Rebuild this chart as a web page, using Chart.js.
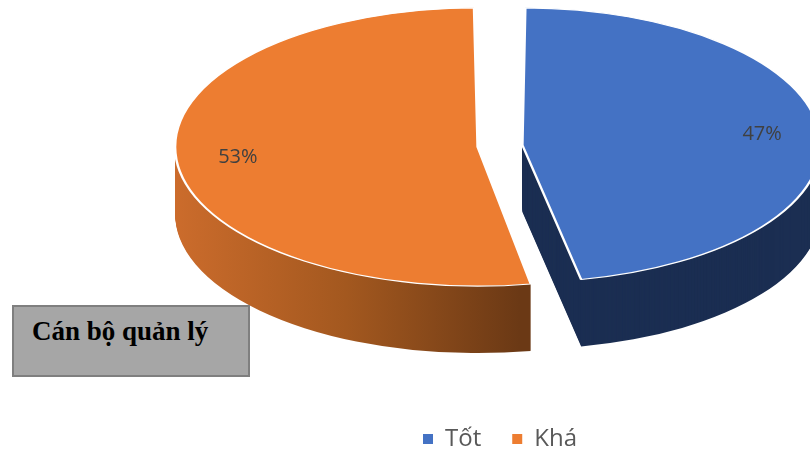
<!DOCTYPE html>
<html><head><meta charset="utf-8">
<script src="https://cdn.jsdelivr.net/npm/chart.js@4"></script>
<style>
html,body{margin:0;padding:0;background:#fff;}
#view{position:absolute;left:0;top:0;width:810px;height:453px;overflow:hidden;}
#holder{position:absolute;left:0;top:0;width:1000px;height:461px;}
#note{position:absolute;left:12px;top:305px;width:234px;height:68px;background:#a6a6a6;border:2px solid #7f7f7f;color:#000;}
#note span{position:absolute;left:18px;top:9px;font:bold 27px "Liberation Serif",serif;white-space:nowrap;}
</style></head><body>
<div id="view">
  <div id="holder"><canvas id="c"></canvas></div>
  <div id="note"><span>Cán bộ quản lý</span></div>
</div>
<script>
// ---- data ----
const categories = ['Tốt', 'Khá'];
const values = [47, 53];
const total = values.reduce((a, b) => a + b, 0);
const percentLabels = values.map(v => Math.round(v / total * 100) + '%');

// ---- style ----
const topColors = ['#4472c4', '#ed7d31'];

const pie3d = {
  id: 'pie3d',
  beforeDatasetsDraw(chart, args, opts) {
    const ctx = chart.ctx;
    const arcs = chart.getDatasetMeta(0).data;
    if (!arcs.length) return false;
    const cy = arcs[0].y;
    const k = opts.tilt, depth = opts.depth, ty = opts.centerY;
    const place = d => { ctx.translate(0, ty + d); ctx.scale(1, k); ctx.translate(0, -cy); };
    const drawWith = (arc, over) => {
      const saved = arc.options;
      arc.options = Object.assign({}, saved, over);
      arc.draw(ctx);
      arc.options = saved;
    };
    const sideFills = arcs.map((arc, i) => {
      const c = opts.sideColors[i];
      if (Array.isArray(c)) {
        const R = arc.outerRadius;
        const g = ctx.createLinearGradient(arc.x - R - 25, 0, arc.x + R * 0.15, 0);
        c.forEach((col, j) => g.addColorStop(j / (c.length - 1), col));
        return g;
      }
      return c;
    });
    for (let d = depth; d >= 1; d--) {
      arcs.forEach((arc, i) => {
        ctx.save(); place(d);
        drawWith(arc, {backgroundColor: sideFills[i], borderWidth: 0});
        ctx.restore();
      });
    }
    arcs.forEach(arc => { ctx.save(); place(0); arc.draw(ctx); ctx.restore(); });
    // percentage labels
    ctx.save();
    ctx.fillStyle = opts.labelColor;
    ctx.font = opts.labelFont;
    ctx.textAlign = 'center';
    ctx.textBaseline = 'middle';
    arcs.forEach((arc, i) => {
      const half = (arc.startAngle + arc.endAngle) / 2;
      const rho = (arc.options.offset || 0) / 4 + arc.outerRadius * opts.labelRadius;
      const x = arc.x + Math.cos(half) * rho;
      const y = ty + Math.sin(half) * rho * k;
      ctx.fillText(percentLabels[i], x, y);
    });
    ctx.restore();
    return false;
  }
};

const baseLabels = Chart.overrides.pie.plugins.legend.labels.generateLabels;

new Chart(document.getElementById('c'), {
  type: 'pie',
  data: {
    labels: categories,
    datasets: [{
      data: values,
      backgroundColor: topColors,
      borderColor: '#ffffff',
      borderWidth: 2.5,
      offset: 90,
      radius: 280
    }]
  },
  options: {
    responsive: true,
    maintainAspectRatio: false,
    animation: false,
    events: [],
    layout: {padding: 0},
    plugins: {
      legend: {
        position: 'bottom',
        labels: {
          boxWidth: 10, boxHeight: 10, padding: 31,
          color: '#595959',
          font: {family: 'Open Sans', size: 24},
          generateLabels: chart => baseLabels(chart).map(l => Object.assign(l, {lineWidth: 0}))
        }
      },
      tooltip: {enabled: false},
      pie3d: {
        tilt: 0.46,
        depth: 67,
        centerY: 146,
        sideColors: ['#1b2e52', ['#cc6c2c', '#a3581f', '#6b3915']],
        labelColor: '#404040',
        labelFont: '20px "Open Sans"',
        labelRadius: 0.86
      }
    }
  },
  plugins: [pie3d]
});
</script>
</body></html>
